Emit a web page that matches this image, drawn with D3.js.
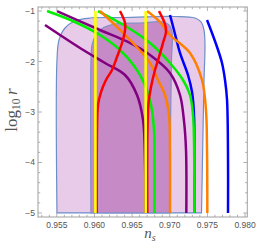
<!DOCTYPE html>
<html><head><meta charset="utf-8">
<script src="https://cdn.jsdelivr.net/npm/d3@7"></script>
<style>body{margin:0;background:#fff}svg{display:block}</style>
</head><body>
<svg id="c" width="257" height="242"></svg>
<script>
// ---- data (ns, log10 r) ----
const xTicks = [0.955, 0.960, 0.965, 0.970, 0.975, 0.980];
const xTickLabels = ["0.955", "0.960", "0.965", "0.970", "0.975", "0.980"];
const yTicks = [-1, -2, -3, -4, -5];
const yTickLabels = ["\u22121", "\u22122", "\u22123", "\u22124", "\u22125"];

const region2sigma = [[0.95502,-5],[0.95502,-1.970],[0.95529,-1.574],[0.95609,-1.336],[0.95741,-1.197],[0.95941,-1.138],[0.96339,-1.128],[0.97070,-1.108],[0.97335,-1.138],[0.97415,-1.217],[0.97455,-1.376],[0.97468,-1.673],[0.97455,-2.366],[0.97442,-3.357],[0.97422,-5]];
const region1sigma = [[0.95954,-5],[0.95954,-1.970],[0.95967,-1.673],[0.96020,-1.475],[0.96113,-1.336],[0.96273,-1.257],[0.96605,-1.237],[0.96910,-1.217],[0.96990,-1.277],[0.97030,-1.415],[0.97023,-1.970],[0.97010,-3.357],[0.97003,-5]];

const purpleA = [[0.95502,-1.0],[0.96073,-1.376],[0.96445,-1.613],[0.96738,-1.871],[0.97003,-2.227],[0.97136,-2.663],[0.97189,-3.178],[0.97216,-3.753],[0.97220,-5.0]];
const purpleB = [[0.95343,-1.277],[0.95808,-1.732],[0.96140,-2.029],[0.96406,-2.267],[0.96565,-2.663],[0.96645,-3.159],[0.96671,-3.951],[0.96675,-5.0]];
const green1 = [[0.95370,-1.0],[0.95741,-1.217],[0.96073,-1.475],[0.96339,-1.772],[0.96538,-2.109],[0.96671,-2.465],[0.96751,-2.861],[0.96791,-3.357],[0.96797,-3.951],[0.96797,-5.0]];
const green2 = [[0.96047,-1.0],[0.96432,-1.316],[0.96738,-1.633],[0.97003,-2.029],[0.97176,-2.366],[0.97269,-2.663],[0.97309,-3.059],[0.97322,-3.555],[0.97326,-5.0]];
const orange1 = [[0.96698,-1.0],[0.96870,-1.217],[0.97003,-1.475],[0.97269,-1.831],[0.97428,-2.366],[0.97481,-2.960],[0.97495,-3.753],[0.97499,-5.0]];
const orange2 = [[0.96073,-1.0],[0.96273,-1.277],[0.96512,-1.633],[0.96738,-2.029],[0.96844,-2.366],[0.96937,-2.663],[0.96990,-3.059],[0.97003,-3.753],[0.97003,-5.0]];
const red1 = [[0.96339,-1.0],[0.96406,-1.237],[0.96406,-1.376],[0.96366,-1.633],[0.96299,-1.911],[0.96233,-2.168],[0.96153,-2.366],[0.96087,-2.604],[0.96047,-2.861],[0.96034,-3.357],[0.96031,-5.0]];
const red2 = [[0.96857,-1.0],[0.96937,-1.257],[0.96950,-1.415],[0.96910,-1.633],[0.96857,-1.911],[0.96804,-2.168],[0.96751,-2.505],[0.96718,-2.822],[0.96704,-3.357],[0.96702,-5.0]];
const blue1 = [[0.97003,-1.078],[0.97056,-1.376],[0.97136,-1.831],[0.97242,-2.267],[0.97296,-2.604],[0.97322,-3.059],[0.97326,-3.753],[0.97326,-5.0]];
const blue2 = [[0.97495,-1.178],[0.97561,-1.435],[0.97628,-1.712],[0.97694,-2.029],[0.97734,-2.366],[0.97761,-2.762],[0.97774,-3.951],[0.97774,-5.0]];
const yellowNs = [0.96013, 0.96680];
const yellowRange = [-1.0, -5.0];

// ---- drawing ----
const svg = d3.select("#c");
const x = d3.scaleLinear().domain([0.9525, 0.9803]).range([38, 247.3]);
const y = d3.scaleLinear().domain([-5.08, -0.92]).range([217, 7]);
const X0 = x.range()[0], X1 = x.range()[1], Y0 = y.range()[1], Y1 = y.range()[0];

svg.append("clipPath").attr("id","pc").append("rect")
  .attr("x", X0).attr("y", Y0).attr("width", X1-X0).attr("height", Y1-Y0);
const g = svg.append("g").attr("clip-path","url(#pc)");

const area = d3.line().x(d=>x(d[0])).y(d=>y(d[1])).curve(d3.curveCatmullRom.alpha(0.5));
g.append("path").attr("d", area(region2sigma)+"Z").attr("fill","#e8cbe8").attr("stroke","#6b8fc9").attr("stroke-width",1.2);
g.append("path").attr("d", area(region1sigma)+"Z").attr("fill","#c68ac6").attr("stroke","#7f90c8").attr("stroke-width",1.2);

const line = d3.line().x(d=>x(d[0])).y(d=>y(d[1])).curve(d3.curveCatmullRom.alpha(0.5));
const curves = [
  [blue1,"#0000ff"],[blue2,"#0000ff"],
  [purpleA,"#800080"],[purpleB,"#800080"],
  [green1,"#00ee00"],[green2,"#00ee00"],
  [orange1,"#ff8000"],[orange2,"#ff8000"],
  [red1,"#ff0000"],[red2,"#ff0000"]
];
curves.forEach(([d,c])=>{
  g.append("path").attr("d", line(d)).attr("fill","none").attr("stroke",c).attr("stroke-width",2.5).attr("stroke-linecap","butt");
});
yellowNs.forEach(v=>{
  g.append("line").attr("x1",x(v)).attr("x2",x(v)).attr("y1",y(yellowRange[0])).attr("y2",y(yellowRange[1]))
    .attr("stroke","#ffff00").attr("stroke-width",2.6);
});

// frame
const tickCol = "#a0a0a0";
svg.append("rect").attr("x",X0).attr("y",Y0).attr("width",X1-X0).attr("height",Y1-Y0)
  .attr("fill","none").attr("stroke",tickCol).attr("stroke-width",1);

// ticks
const xMinor = d3.range(0.953, 0.9802, 0.001);
const yMinor = d3.range(-5.0, -0.99, 0.2);
const tk = svg.append("g").attr("stroke",tickCol).attr("stroke-width",0.8);
xMinor.forEach(v=>{
  const isMaj = xTicks.some(t=>Math.abs(t-v)<1e-6);
  const L = isMaj?4:2.2;
  tk.append("line").attr("x1",x(v)).attr("x2",x(v)).attr("y1",Y1).attr("y2",Y1-L);
  tk.append("line").attr("x1",x(v)).attr("x2",x(v)).attr("y1",Y0).attr("y2",Y0+L);
});
yMinor.forEach(v=>{
  const isMaj = yTicks.some(t=>Math.abs(t-v)<1e-6);
  const L = isMaj?4:2.2;
  tk.append("line").attr("y1",y(v)).attr("y2",y(v)).attr("x1",X0).attr("x2",X0+L);
  tk.append("line").attr("y1",y(v)).attr("y2",y(v)).attr("x1",X1).attr("x2",X1-L);
});

// tick labels
const lab = svg.append("g").attr("fill","#555").attr("font-family","Liberation Sans, Arial, sans-serif").attr("font-size",8.5);
xTicks.forEach((v,i)=>{
  lab.append("text").attr("x",x(v)).attr("y",228).attr("text-anchor","middle").text(xTickLabels[i]);
});
yTicks.forEach((v,i)=>{
  lab.append("text").attr("x",35).attr("y",y(v)+3).attr("text-anchor","end").text(yTickLabels[i]);
});

// axis titles
const serif = "Liberation Serif, Times New Roman, serif";
const xt = svg.append("text").attr("x",150).attr("y",238).attr("text-anchor","middle")
  .attr("font-family",serif).attr("font-size",15).attr("fill","#555");
xt.append("tspan").attr("font-style","italic").text("n");
xt.append("tspan").attr("font-style","italic").attr("font-size",10).attr("dy",3).text("s");

const yt = svg.append("text").attr("transform","translate(17,110) rotate(-90)").attr("text-anchor","middle")
  .attr("font-family",serif).attr("font-size",17).attr("fill","#555");
yt.append("tspan").text("log");
yt.append("tspan").attr("font-size",11.5).attr("dy",3).text("10");
yt.append("tspan").attr("dy",-3).text("\u2009");
yt.append("tspan").attr("font-style","italic").text("r");
</script>
</body></html>
